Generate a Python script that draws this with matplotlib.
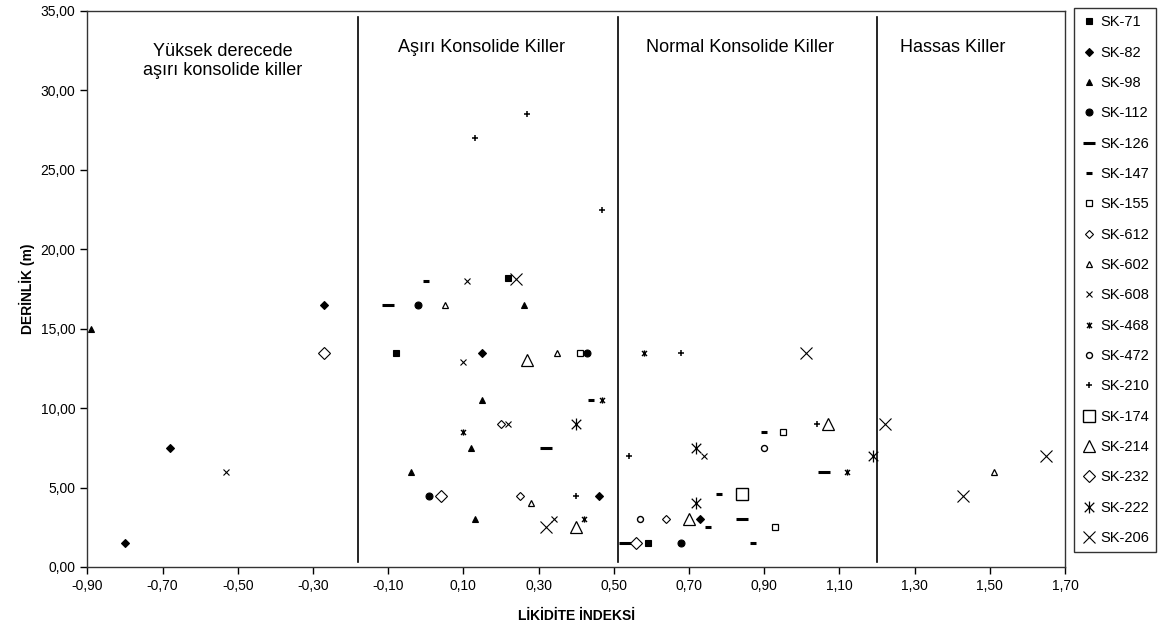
import matplotlib
matplotlib.use('Agg')
import matplotlib.pyplot as plt
from matplotlib.path import Path
from matplotlib.ticker import FuncFormatter, FixedLocator

plt.rcParams['font.family'] = ['Liberation Sans', 'DejaVu Sans']

# veriler
names = ['SK-71', 'SK-82', 'SK-98', 'SK-112', 'SK-126', 'SK-147', 'SK-155', 'SK-612', 'SK-602',
         'SK-608', 'SK-468', 'SK-472', 'SK-210', 'SK-174', 'SK-214', 'SK-232', 'SK-222', 'SK-206']

sk71_x = [-0.08, 0.22, 0.59]
sk71_y = [13.5, 18.2, 1.5]
sk82_x = [-0.27, -0.68, -0.80, 0.15, 0.46, 0.73]
sk82_y = [16.5, 7.5, 1.5, 13.5, 4.5, 3.0]
sk98_x = [-0.89, 0.26, 0.15, 0.12, -0.04, 0.13]
sk98_y = [15.0, 16.5, 10.5, 7.5, 6.0, 3.0]
sk112_x = [-0.02, 0.43, 0.01, 0.68]
sk112_y = [16.5, 13.5, 4.5, 1.5]
sk126_x = [-0.10, 0.32, 0.84, 1.06, 0.53]
sk126_y = [16.5, 7.5, 3.0, 6.0, 1.5]
sk147_x = [0.00, 0.44, 0.90, 0.78, 0.75, 0.87]
sk147_y = [18.0, 10.5, 8.5, 4.6, 2.5, 1.5]
sk155_x = [0.41, 0.95, 0.93]
sk155_y = [13.5, 8.5, 2.5]
sk612_x = [0.20, 0.25, 0.64]
sk612_y = [9.0, 4.5, 3.0]
sk602_x = [0.05, 0.35, 0.28, 0.40, 1.51]
sk602_y = [16.5, 13.5, 4.0, 2.5, 6.0]
sk608_x = [-0.53, 0.11, 0.10, 0.22, 0.34, 0.74]
sk608_y = [6.0, 18.0, 12.9, 9.0, 3.0, 7.0]
sk468_x = [0.47, 0.10, 0.42, 0.58, 1.12]
sk468_y = [10.5, 8.5, 3.0, 13.5, 6.0]
sk472_x = [0.90, 0.57]
sk472_y = [7.5, 3.0]
sk210_x = [0.27, 0.13, 0.47, 0.40, 0.68, 0.54, 1.04]
sk210_y = [28.5, 27.0, 22.5, 4.5, 13.5, 7.0, 9.0]
sk174_x = [0.84]
sk174_y = [4.6]
sk214_x = [0.27, 0.40, 0.70, 1.07]
sk214_y = [13.0, 2.5, 3.0, 9.0]
sk232_x = [-0.27, 0.04, 0.56]
sk232_y = [13.5, 4.5, 1.5]
sk222_x = [0.40, 0.72, 0.72, 1.19]
sk222_y = [9.0, 7.5, 4.0, 7.0]
sk206_x = [0.24, 0.32, 1.01, 1.22, 1.43, 1.65]
sk206_y = [18.1, 2.5, 13.5, 9.0, 4.5, 7.0]

xs = [sk71_x, sk82_x, sk98_x, sk112_x, sk126_x, sk147_x, sk155_x, sk612_x, sk602_x,
      sk608_x, sk468_x, sk472_x, sk210_x, sk174_x, sk214_x, sk232_x, sk222_x, sk206_x]
ys = [sk71_y, sk82_y, sk98_y, sk112_y, sk126_y, sk147_y, sk155_y, sk612_y, sk602_y,
      sk608_y, sk468_y, sk472_y, sk210_y, sk174_y, sk214_y, sk232_y, sk222_y, sk206_y]

x_ticks = [-0.9, -0.7, -0.5, -0.3, -0.1, 0.1, 0.3, 0.5, 0.7, 0.9, 1.1, 1.3, 1.5, 1.7]
y_ticks = [0, 5, 10, 15, 20, 25, 30, 35]

# bolge sinirlari ve etiketleri
boundary_x = [-0.18, 0.51, 1.20]
zone_labels = ['Yüksek derecede\naşırı konsolide killer', 'Aşırı Konsolide Killer',
               'Normal Konsolide Killer', 'Hassas Killer']
zone_label_x = [-0.54, 0.147, 0.837, 1.40]

# yildiz (Excel tipi) isaret
star = Path([(0, -1), (0, 1), (-0.8, -0.8), (0.8, 0.8), (-0.8, 0.8), (0.8, -0.8)],
            [Path.MOVETO, Path.LINETO, Path.MOVETO, Path.LINETO, Path.MOVETO, Path.LINETO])

# marker, boyut, dolu mu, cizgi kalinligi
styles = [('s', 4.5, True, 0.8), ('D', 4.0, True, 0.8), ('^', 5.0, True, 0.8), ('o', 5.0, True, 0.8),
          ('_', 8.0, True, 2.2), ('_', 4.5, True, 2.2), ('s', 4.3, False, 0.9), ('D', 4.0, False, 0.8),
          ('^', 5.0, False, 0.9), ('x', 4.3, False, 0.8), (star, 4.5, False, 1.0), ('o', 4.3, False, 1.0),
          ('+', 5.0, False, 1.1), ('s', 8.6, False, 1.0), ('^', 9.0, False, 0.9), ('D', 6.0, False, 0.8),
          (star, 8.6, False, 0.9), ('x', 8.6, False, 0.8)]

fig = plt.figure(figsize=(11.61, 6.32), dpi=100)
ax = fig.add_axes([87.3 / 1161, 1 - 567 / 632, (1065 - 87.3) / 1161, (567 - 11) / 632])

for name, x, y, (m, ms, filled, mew) in zip(names, xs, ys, styles):
    ax.plot(x, y, linestyle='none', marker=m, markersize=ms, markeredgewidth=mew,
            markeredgecolor='black', markerfacecolor='black' if filled else 'white',
            label=name, clip_on=False)

for bx in boundary_x:
    ax.plot([bx, bx], [0.3, 34.6], color='black', linewidth=1.2)

for lx, txt in zip(zone_label_x, zone_labels):
    if '\n' in txt:
        ax.text(lx, 31.85, txt, ha='center', va='center', fontsize=13, linespacing=1.2)
    else:
        ax.text(lx, 32.7, txt, ha='center', va='center', fontsize=13)

ax.set_xlim(-0.9, 1.7)
ax.set_ylim(0, 35)
ax.xaxis.set_major_locator(FixedLocator(x_ticks))
ax.yaxis.set_major_locator(FixedLocator(y_ticks))
fmt = FuncFormatter(lambda v, p: ('%.2f' % v).replace('.', ','))
ax.xaxis.set_major_formatter(fmt)
ax.yaxis.set_major_formatter(fmt)
ax.tick_params(direction='out', length=5, width=1, labelsize=10, colors='black')
for s in ax.spines.values():
    s.set_linewidth(1)
    s.set_color('#333333')

ax.set_xlabel('LİKİDİTE İNDEKSİ', fontsize=10, fontweight='bold', labelpad=12)
ax.set_ylabel('DERİNLİK (m)', fontsize=10, fontweight='bold', labelpad=4)

leg = fig.legend(loc='upper left', bbox_to_anchor=(1074 / 1161, 1 - 8 / 632), borderaxespad=0,
                 numpoints=1, handlelength=1.0, handletextpad=0.3, labelspacing=1.12,
                 fontsize=10.5, frameon=True, fancybox=False, borderpad=0.5)
leg.get_frame().set_edgecolor('black')
leg.get_frame().set_linewidth(1)

fig.savefig('out.png', dpi=100)
